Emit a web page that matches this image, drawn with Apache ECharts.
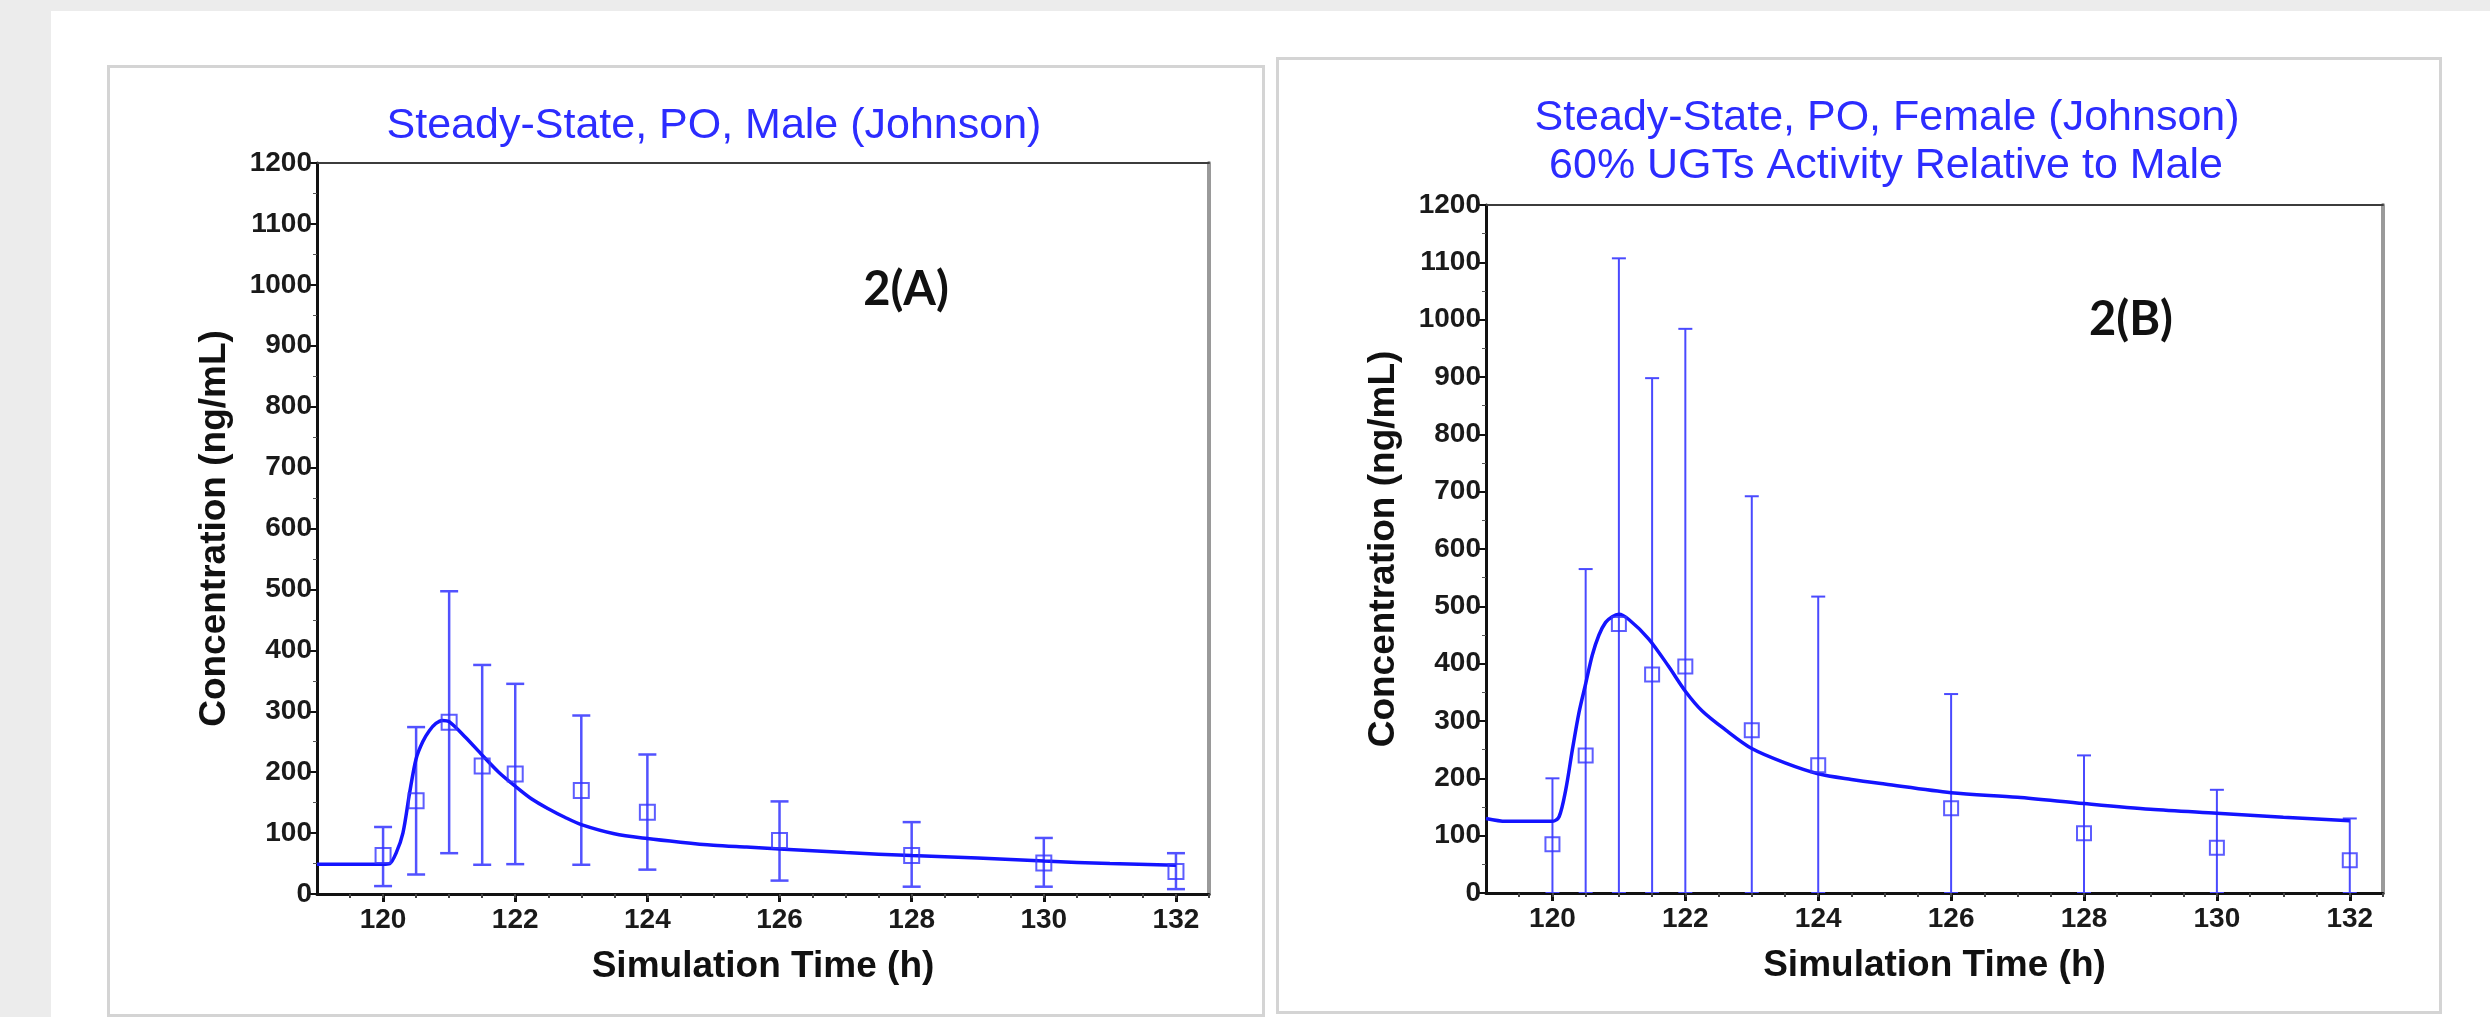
<!DOCTYPE html>
<html>
<head>
<meta charset="utf-8">
<title>Steady-State PO concentration</title>
<script src="https://cdn.jsdelivr.net/npm/echarts@6.0.0/dist/echarts.min.js"></script>
<style>
  html, body { margin: 0; padding: 0; background: #ececec; }
  #page { position: relative; width: 2490px; height: 1017px; overflow: hidden; }
  .sheet { position: absolute; left: 51px; top: 11px; right: 0; bottom: 0; background: #fff; }
  .panel { position: absolute; border: 3px solid #d4d4d4; box-sizing: border-box; }
  #chart { position: absolute; left: 0; top: 0; width: 2490px; height: 1017px; }
</style>
</head>
<body>
<div id="page">
  <div class="sheet"></div>
  <div class="panel" style="left:107px; top:65px; width:1158px; height:952px;"></div>
  <div class="panel" style="left:1276px; top:57px; width:1166px; height:957px;"></div>
  <div id="chart"></div>
</div>
<script>
// observed sampling times (h)
const sampleTimes = [120, 120.5, 121, 121.5, 122, 123, 124, 126, 128, 130, 132];

// 2(A) male observed mean and error bar ends (ng/mL)
const maleMean  = [63, 153, 282, 210, 197, 170, 134, 88, 63, 51, 37];
const maleUpper = [110, 274, 497, 376, 345, 293, 229, 152, 118, 92, 67];
const maleLower = [13, 32, 67, 48, 49, 48, 40, 22, 12, 12, 8];

// 2(B) female observed mean and error bar ends (ng/mL)
const femaleMean  = [85, 240, 469, 381, 395, 284, 223, 148, 104, 79, 57];
const femaleUpper = [200, 565, 1107, 898, 984, 692, 517, 347, 240, 180, 130];
const femaleLower = [0, 0, 0, 0, 0, 0, 0, 0, 0, 0, 0];

// simulated profiles
const maleSimTime = [119, 120, 120.1, 120.2, 120.3, 120.4, 120.5, 120.6, 120.7, 120.8, 120.9, 121, 121.25, 121.5, 121.75, 122,
  122.25, 122.5, 122.75, 123, 123.5, 124, 124.5, 125, 125.5, 126, 127, 128, 129, 130, 131, 132];
const maleSimConc = [49, 49, 50, 68, 100, 165, 222, 250, 268, 280, 285, 283, 257, 228, 200, 177,
  156, 140, 126, 114, 99, 91, 85, 80, 77, 74, 68, 63, 59, 54, 50, 47];

const femaleSimTime = [119, 119.3, 120, 120.1, 120.2, 120.3, 120.4, 120.5, 120.6, 120.7, 120.8, 120.9, 121, 121.15, 121.45, 121.75,
  122, 122.25, 122.6, 123, 123.5, 124, 124.5, 125, 126, 127, 128, 129, 130, 131, 132];
const femaleSimConc = [130, 125, 125, 133, 180, 250, 315, 365, 415, 450, 472, 482, 486, 477, 443, 395,
  352, 318, 285, 252, 227, 208, 198, 190, 175, 167, 156, 146, 139, 132, 126];

// axis ticks
const xTicks = [120, 122, 124, 126, 128, 130, 132];
const xMinorTicks = [];
for (let t = 119.5; t <= 132.5; t += 0.5) xMinorTicks.push(t);
const yMin = 0, yMax = 1200, yStep = 100;
const xMin = 119, xMax = 132.5;

const FONT = '"Liberation Sans", Arial, sans-serif';
const BLUE = '#1414ff';

const grids = [
  { left: 317, top: 163, width: 892, height: 731 },
  { left: 1486, top: 205, width: 897, height: 688 }
];

function pairs(xs, ys) {
  return xs.map((x, i) => [x, ys[i]]);
}

function makeAxes(g) {
  const xs = [
    {
      gridIndex: g, type: 'value', position: 'bottom', min: xMin, max: xMax,
      name: 'Simulation Time (h)', nameLocation: 'middle', nameGap: 54,
      nameTextStyle: { fontFamily: FONT, fontWeight: 'bold', fontSize: 37, color: '#111' },
      axisLine: { show: true, lineStyle: { color: '#111', width: 3 } },
      axisTick: { show: true, customValues: xTicks, length: 8, lineStyle: { color: '#111', width: 3 } },
      axisLabel: { customValues: xTicks, margin: 12, fontFamily: FONT, fontWeight: 'bold', fontSize: 28, color: '#1a1a1a' },
      splitLine: { show: false }
    },
    {
      gridIndex: g, type: 'value', position: 'bottom', min: xMin, max: xMax,
      axisLine: { show: false },
      axisTick: { show: true, customValues: xMinorTicks, length: 4, lineStyle: { color: '#444', width: 2 } },
      axisLabel: { show: false },
      splitLine: { show: false }
    },
    {
      gridIndex: g, type: 'value', position: 'top', min: xMin, max: xMax,
      axisLine: { show: true, lineStyle: { color: '#3c3c3c', width: 2 } },
      axisTick: { show: false }, axisLabel: { show: false }, splitLine: { show: false }
    }
  ];
  const ys = [
    {
      gridIndex: g, type: 'value', position: 'left', min: yMin, max: yMax, interval: yStep,
      name: 'Concentration (ng/mL)', nameLocation: 'middle', nameGap: 84, nameRotate: 90,
      nameTextStyle: { fontFamily: FONT, fontWeight: 'bold', fontSize: 37, color: '#111' },
      axisLine: { show: true, lineStyle: { color: '#111', width: 3 } },
      axisTick: { show: true, length: 8, lineStyle: { color: '#111', width: 2 } },
      minorTick: { show: true, splitNumber: 2, length: 4, lineStyle: { color: '#555', width: 1 } },
      axisLabel: {
        margin: 5, fontFamily: FONT, fontWeight: 'bold', fontSize: 28, color: '#1a1a1a',
        formatter: (v) => String(v)
      },
      splitLine: { show: false }
    },
    {
      gridIndex: g, type: 'value', position: 'right', min: yMin, max: yMax,
      axisLine: { show: true, lineStyle: { color: '#9a9a9a', width: 4 } },
      axisTick: { show: false }, axisLabel: { show: false }, splitLine: { show: false }
    }
  ];
  return { xs, ys };
}

function errorBars(g, lower, upper, cap, width, color) {
  return {
    type: 'custom',
    xAxisIndex: g * 3, yAxisIndex: g * 2,
    clip: true, z: 2,
    data: sampleTimes.map((t, i) => [t, lower[i], upper[i]]),
    encode: { x: 0, y: [1, 2] },
    renderItem: function (params, api) {
      const top = api.coord([api.value(0), api.value(2)]);
      const bot = api.coord([api.value(0), api.value(1)]);
      const st = { stroke: color, lineWidth: width };
      return {
        type: 'group',
        children: [
          { type: 'line', shape: { x1: top[0], y1: top[1], x2: bot[0], y2: bot[1] }, style: st },
          { type: 'line', shape: { x1: top[0] - cap, y1: top[1], x2: top[0] + cap, y2: top[1] }, style: st },
          { type: 'line', shape: { x1: bot[0] - cap, y1: bot[1], x2: bot[0] + cap, y2: bot[1] }, style: st }
        ]
      };
    }
  };
}

function simLine(g, xs, ys) {
  return {
    type: 'line', xAxisIndex: g * 3, yAxisIndex: g * 2,
    data: pairs(xs, ys), showSymbol: false, smooth: 0.3, z: 3,
    lineStyle: { color: BLUE, width: 3.5 },
    silent: true
  };
}

function observed(g, mean, size) {
  return {
    type: 'scatter', xAxisIndex: g * 3, yAxisIndex: g * 2,
    data: pairs(sampleTimes, mean), symbol: 'rect', symbolSize: size, z: 4,
    itemStyle: { color: 'rgba(0,0,0,0)', borderColor: '#3535ff', borderWidth: 2 }
  };
}

const a0 = makeAxes(0);
const a1 = makeAxes(1);

function label(text, x, y, font, color) {
  return {
    type: 'text', x: x, y: y, z: 10,
    style: { text: text, font: font, fill: color, align: 'center', verticalAlign: 'middle' }
  };
}

const option = {
  backgroundColor: 'transparent',
  animation: false,
  grid: grids,
  xAxis: a0.xs.concat(a1.xs),
  yAxis: a0.ys.concat(a1.ys),
  graphic: [
    label('Steady-State, PO, Male (Johnson)', 714, 126, 'normal 43px ' + FONT, '#2c2cff'),
    label('Steady-State, PO, Female (Johnson)', 1887, 118, 'normal 43px ' + FONT, '#2c2cff'),
    label('60% UGTs Activity Relative to Male', 1886, 166, 'normal 43px ' + FONT, '#2c2cff'),
    label('2(A)', 906, 290, 'bold 47px Lato, sans-serif', '#111'),
    label('2(B)', 2131, 320, 'bold 47px Lato, sans-serif', '#111')
  ],
  series: [
    errorBars(0, maleLower, maleUpper, 9, 2.5, '#5252ff'),
    simLine(0, maleSimTime, maleSimConc),
    observed(0, maleMean, 15),
    errorBars(1, femaleLower, femaleUpper, 7, 2, '#4a4aff'),
    simLine(1, femaleSimTime, femaleSimConc),
    observed(1, femaleMean, 14)
  ]
};

const chart = echarts.init(document.getElementById('chart'));
chart.setOption(option);
</script>
</body>
</html>
